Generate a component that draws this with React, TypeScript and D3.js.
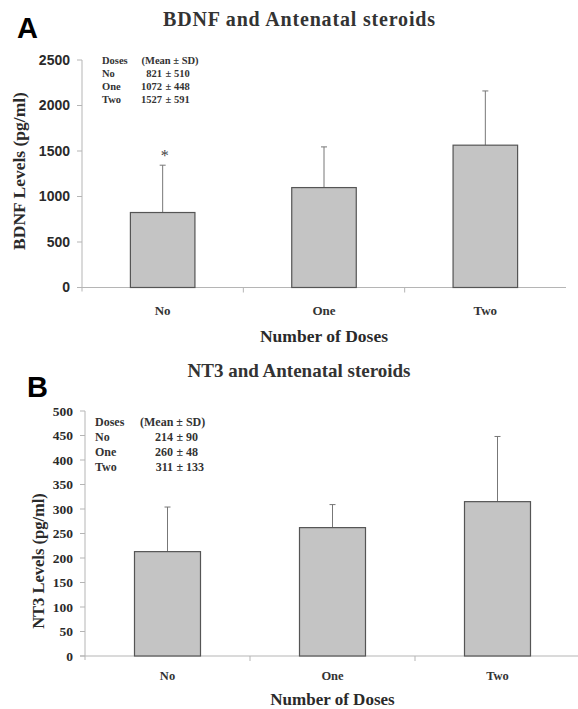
import React from 'react';
import * as d3 from 'd3';

const categories = ['No', 'One', 'Two'];
// bar heights and SD as drawn in the picture
const bdnfMean = [824, 1098, 1564];
const bdnfSD = [520, 447, 596];
const nt3Mean = [213, 262, 315];
const nt3SD = [91, 47, 133];
const bdnfTicks = [0, 500, 1000, 1500, 2000, 2500];
const nt3Ticks = [0, 50, 100, 150, 200, 250, 300, 350, 400, 450, 500];
// printed legend (Mean ± SD)
const bdnfLegend = [
  ['No', '821', '± 510'],
  ['One', '1072', '± 448'],
  ['Two', '1527', '± 591'],
];
const nt3Legend = [
  ['No', '214', '± 90'],
  ['One', '260', '± 48'],
  ['Two', '311', '± 133'],
];

const serif = '"Liberation Serif", "Times New Roman", serif';
const sans = '"Liberation Sans", Arial, sans-serif';

type PanelProps = {
  letter: string;
  letterX: number;
  letterY: number;
  title: string;
  titleY: number;
  titleSize: number;
  titleLen?: number;
  yLabel: string;
  yLabelX: number;
  yLabelY: number;
  yLabelSize: number;
  means: number[];
  sds: number[];
  ticks: number[];
  yMax: number;
  y0: number;
  y1: number;
  x0: number;
  x1: number;
  tickFont: string;
  tickSize: number;
  tickRight: number;
  legend: string[][];
  legendX: number[];
  legendY: number;
  legendStep: number;
  legendSize: number;
  catY: number;
  catSize: number;
  xTitleY: number;
  xTitleSize: number;
  star?: boolean;
};

const Panel = (p: PanelProps) => {
  const y = d3.scaleLinear().domain([0, p.yMax]).range([p.y0, p.y1]);
  const x = d3
    .scaleBand<string>()
    .domain(categories)
    .range([p.x0, p.x1])
    .paddingInner(0.6)
    .paddingOuter(0.3);
  const step = x.step();
  const axisColor = '#b5b5b5';
  const ink = '#2a2a2a';
  return (
    <g>
      <text x={p.letterX} y={p.letterY} fontFamily={sans} fontWeight="bold" fontSize={29}>
        {p.letter}
      </text>
      <text
        x={299}
        y={p.titleY}
        textAnchor="middle"
        fontFamily={serif}
        fontWeight="bold"
        fontSize={p.titleSize}
        textLength={p.titleLen}
        fill="#333"
      >
        {p.title}
      </text>
      <text
        transform={`translate(${p.yLabelX},${p.yLabelY}) rotate(-90)`}
        textAnchor="middle"
        fontFamily={serif}
        fontWeight="bold"
        fontSize={p.yLabelSize}
        fill={ink}
      >
        {p.yLabel}
      </text>
      {/* axes */}
      <line x1={p.x0} x2={p.x0} y1={y(p.yMax)} y2={p.y0 + 4} stroke={axisColor} />
      <line x1={p.x0 - 5} x2={p.x1} y1={p.y0} y2={p.y0} stroke={axisColor} />
      {p.ticks.map((t) => (
        <g key={t}>
          <line x1={p.x0 - 5} x2={p.x0} y1={y(t)} y2={y(t)} stroke={axisColor} />
          <text
            x={p.tickRight}
            y={y(t)}
            dy="0.35em"
            textAnchor="end"
            fontFamily={p.tickFont}
            fontWeight="bold"
            fontSize={p.tickSize}
            fill={ink}
          >
            {t}
          </text>
        </g>
      ))}
      {categories.slice(1).map((c) => (
        <line
          key={c}
          x1={(x(c) as number) - step * 0.3}
          x2={(x(c) as number) - step * 0.3}
          y1={p.y0}
          y2={p.y0 + 5}
          stroke={axisColor}
        />
      ))}
      {/* bars and error bars */}
      {categories.map((c, i) => {
        const bx = x(c) as number;
        const cx = bx + x.bandwidth() / 2;
        const top = y(p.means[i] + p.sds[i]);
        return (
          <g key={c}>
            <line x1={cx} x2={cx} y1={y(p.means[i])} y2={top} stroke="#777" />
            <line x1={cx - 3} x2={cx + 3} y1={top} y2={top} stroke="#777" />
            <rect
              x={bx}
              y={y(p.means[i])}
              width={x.bandwidth()}
              height={p.y0 - y(p.means[i])}
              fill="#c4c4c4"
              stroke="#555"
              strokeWidth={1.2}
            />
            <text x={cx} y={p.catY} textAnchor="middle" fontFamily={serif} fontWeight="bold" fontSize={p.catSize} fill="#333">
              {c}
            </text>
          </g>
        );
      })}
      {p.star && (
        <text
          x={(x('No') as number) + x.bandwidth() / 2 + 2}
          y={y(p.means[0] + p.sds[0]) - 4}
          textAnchor="middle"
          fontFamily={serif}
          fontSize={16}
          fill="#444"
        >
          *
        </text>
      )}
      <text
        x={(p.x0 + p.x1) / 2}
        y={p.xTitleY}
        textAnchor="middle"
        fontFamily={serif}
        fontWeight="bold"
        fontSize={p.xTitleSize}
        fill={ink}
      >
        Number of Doses
      </text>
      {/* legend */}
      <g fontFamily={serif} fontWeight="bold" fontSize={p.legendSize} fill="#333">
        <text x={p.legendX[0]} y={p.legendY}>Doses</text>
        <text x={p.legendX[1]} y={p.legendY}>(Mean ± SD)</text>
        {p.legend.map((row, i) => (
          <g key={row[0]}>
            <text x={p.legendX[0]} y={p.legendY + (i + 1) * p.legendStep}>{row[0]}</text>
            <text x={p.legendX[2]} y={p.legendY + (i + 1) * p.legendStep} textAnchor="end">{row[1]}</text>
            <text x={p.legendX[2] + 3.5} y={p.legendY + (i + 1) * p.legendStep}>{row[2]}</text>
          </g>
        ))}
      </g>
    </g>
  );
};

export default function App() {
  return (
    <svg width={578} height={709} style={{ position: 'absolute', left: 0, top: 0, background: '#fff' }}>
      <Panel
        letter="A"
        letterX={17}
        letterY={38}
        title="BDNF and Antenatal steroids"
        titleY={26}
        titleSize={20}
        titleLen={272}
        yLabel="BDNF Levels (pg/ml)"
        yLabelX={25}
        yLabelY={171}
        yLabelSize={17.5}
        means={bdnfMean}
        sds={bdnfSD}
        ticks={bdnfTicks}
        yMax={2500}
        y0={287.5}
        y1={60}
        x0={82}
        x1={566}
        tickFont={sans}
        tickSize={14}
        tickRight={70}
        legend={bdnfLegend}
        legendX={[102, 141.5, 162]}
        legendY={63.5}
        legendStep={13.3}
        legendSize={10.5}
        catY={314.5}
        catSize={13}
        xTitleY={341.5}
        xTitleSize={17.5}
        star
      />
      <Panel
        letter="B"
        letterX={27}
        letterY={397}
        title="NT3 and Antenatal steroids"
        titleY={377}
        titleSize={19}
        yLabel="NT3 Levels (pg/ml)"
        yLabelX={44}
        yLabelY={561}
        yLabelSize={16.5}
        means={nt3Mean}
        sds={nt3SD}
        ticks={nt3Ticks}
        yMax={500}
        y0={656}
        y1={411}
        x0={85}
        x1={580}
        tickFont={serif}
        tickSize={13.5}
        tickRight={73}
        legend={nt3Legend}
        legendX={[95, 140, 173]}
        legendY={425.5}
        legendStep={15}
        legendSize={12}
        catY={679.5}
        catSize={12.5}
        xTitleY={704.5}
        xTitleSize={17}
      />
    </svg>
  );
}
